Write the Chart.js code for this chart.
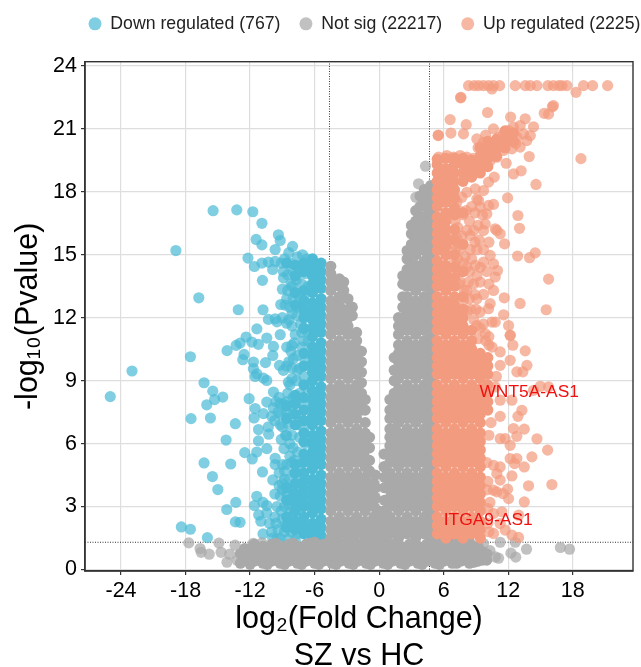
<!DOCTYPE html>
<html><head><meta charset="utf-8">
<style>html,body{margin:0;padding:0;background:#fff}#w{width:641px;height:667px;position:relative}</style>
<script src="https://cdn.jsdelivr.net/npm/chart.js@4/dist/chart.umd.min.js"></script>
</head><body><div id="w"><canvas id="c" width="641" height="667"></canvas></div>
<script>
const seriesNames=['Down regulated (767)','Not sig (22217)','Up regulated (2225)'];
const xTicks=[-24,-18,-12,-6,0,6,12,18];
const yTicks=[0,3,6,9,12,15,18,21,24];
const thresholdX=[-4.62,4.68];
const thresholdY=1.3;
const geneLabels=[['WNT5A-AS1',13.95,8.44],['ITGA9-AS1',10.14,2.35]];

const downScatter=[[-15.44,17.1],[-13.24,17.14],[-11.75,17.05],[-10.9,16.5],[-9.37,15.95],[-9.2,15.68],[-11.44,15.73],[-10.9,15.47],[-9.67,15.25],[-18.9,15.2],[-12.2,14.84],[-11.6,14.44],[-10.9,14.6],[-10.3,14.65],[-9.67,14.68],[-10.85,13.78],[-9,13.36],[-8.1,13.5],[-16.77,12.95],[-13.1,12.38],[-10.8,12.38],[-8.6,12.9],[-9.15,12.63],[-8.75,12.6],[-8.3,12.5],[-10.3,11.92],[-9.67,11.95],[-9.5,11.8],[-9,12],[-8.6,11.74],[-7.65,12.1],[-11.37,11.47],[-9.2,11.19],[-10.45,11.03],[-12.37,11.08],[-7.2,11.3],[-7,10.9],
[-17.55,10.14],[-22.98,9.46],[-25,8.24],[-16.28,8.9],[-15.47,8.5],[-15.3,8.1],[-14.54,8.22],[-16.03,7.85],[-17.49,7.19],[-15.69,7.22],[-13.37,6.95],[-14.23,6.17],[-16.28,5.08],[-13.8,5.03],[-15.5,4.43],[-15,3.81],[-13.33,3.2],[-14.17,2.86],[-13.37,2.27],[-12.93,2.25],[-18.39,2.03],[-17.55,1.92],[-15.97,1.52],[-14.14,10.43],[-13.3,10.68],[-12.93,10.79],[-11.84,10.84],[-11.23,10.73],[-12.56,10.25],[-12.68,10],[-11.69,9.89],[-11.69,9.57],[-11.38,9.33],[-11.53,9.2],[-10.76,9.12],[-10.45,9.01],[-10.57,9.86],[-9.83,10.63],[-9.89,10.2],[-8.6,10.6],[-8.12,10.68],[-7.97,10.05],[-9.27,9.73],[-8.9,9.49],[-8.44,8.93],[-8.3,8.8],[-9.83,8.46],[-12.09,8.14],[-10.45,7.98],[-11.53,7.67],[-11.63,7.22],[-10.76,7.43],[-9.83,7.7],[-8.9,7.9],[-11.22,6.67],[-10.3,6.8],[-10.27,6.45],[-11.22,6.13],[-9,6.8],[-8.6,6.4],[-10.45,5.76],[-11.38,5.6],[-12.5,5.57],[-11.8,5.27],[-8.85,5.76],[-9.67,5.3],[-9.67,5],[-10.85,4.65],[-9.89,4.27],[-8.12,5.1],[-11.38,3.49],[-10.8,3.2],[-11.6,3.05],[-10.45,3.05],[-11.2,2.6],[-10.45,2.7],[-11,2.3],[-10.2,2.2],[-10.8,1.7],[-10,1.8],[-9.3,4],
[-8.05,15.4],[-8.4,15.1],[-8.8,14.8],[-9.1,14.6],[-8.3,14.6],[-7.6,14.9],[-7.13,15],[-6.7,14.8],[-7.4,14.4],[-8,14.2],[-8.5,14.05],[-7.7,13.8],[-8.2,13.6],[-6.9,14.1],[-7.2,13.6],[-6.6,13.5],[-7.6,13.1],[-7,12.9],[-7.5,12.5],[-6.9,12.2],[-7.3,11.7],[-6.8,11.4],[-7.8,11.2],[-6.6,10.9],
[-8.2,10.4],[-7.6,10.2],[-7.2,10.6],[-6.9,10],[-7.4,9.6],[-7,9.2],[-7.7,9],[-6.8,8.7],[-9.3,8.2],[-8.5,8.4],[-8,8.2],[-7.4,8.4],[-7,8],[-9.4,7.5],[-8.6,7.5],[-8,7.4],[-7.3,7.3],[-9.2,6.9],[-8.4,6.9],[-7.7,6.9],[-7,6.7],[-8.1,6.4],[-7.4,6.3],[-6.9,6],
[-7.6,5.6],[-7,5.3],[-7.5,5],[-8.8,4.7],[-8.4,4.3],[-9,4.1],[-7.9,4.6],[-8.1,3.9],[-7.5,4.2],[-9.2,3.5],[-8.6,3.6],[-8,3.3],[-7.5,3.5],[-9.5,3],[-8.8,3],[-8.2,2.8],[-7.6,2.9],[-9.7,2.5],[-9,2.4],[-8.4,2.3],[-7.8,2.3],[-9.4,1.9],[-8.8,1.8],[-8.2,1.8],[-7.6,1.7],[-9.2,1.5],[-8.5,1.45],[-7.8,1.4],
[-9.9,14.3],[-8.9,14.2],[-8.9,13.9],[-8.5,13.3],[-8,12.9],[-8.1,12.2],[-8.4,11.9],[-8.1,11.6],[-7.9,10.8],[-8.4,9.9],[-8.6,9.7],[-8.1,9.6],[-7.6,9.5],[-8.1,9.1],[-9.6,8],[-9.2,7.9],[-8.6,8],[-8.2,7.8],[-9.7,7.1],[-10,7.3],[-9.1,7.4],[-8.7,6.4],[-8.3,6],[-8,5.8],[-9.1,6.2],[-7.9,5.2],[-8.3,5.4],[-8.6,5],[-9,5],[-9.3,4.6],[-9,3.8],[-9.7,3.6],[-8.4,3.1],[-9.1,2.8],[-9.6,2.2],[-8.7,2.1],[-8,2.1],[-9.9,1.5],[-9.5,1.45],[-8.2,3.4],[-8.8,4.3],[-7.9,3.6],[-7.8,4],[-7.9,2.7]];
const downDense=[
[-5.4,[1.6,2,2.4,2.9,3.3,3.7,4.1,4.5,5,5.4,5.8,6.2,6.6,7.1,7.5,7.9,8.3,8.7,9.2,9.6,10,10.4,10.8,11.3,11.7,12.1,12.5,12.9,13.4,13.8,14.2,14.6]],
[-6.2,[1.5,1.8,2.2,2.7,3.1,3.5,3.9,4.3,4.8,5.2,5.6,6,6.4,6.9,7.3,7.7,8.1,8.5,9,9.4,9.8,10.2,10.6,11.1,11.5,11.9,12.3,12.7,13.2,13.6,14,14.4,14.8]],
[-7,[1.7,2.1,2.5,3,3.4,3.8,4.2,4.6,5.1,5.5,6.1,6.5,7.1,7.6,8.2,8.8,9.7,10.3,11.5,12,12.4,12.8,13.3,14.2,14.6]],
[-7.8,[1.9,2.3,2.8,3.2,3.6,4.1,4.6,5,6.9,7.4,7.9,8.3,12.6,13.2,14,14.5]],
[-8.6,[2,2.5,3.3,3.9,7.2,7.8,14.6]]];

const notSigScatter=[[-17.7,1.27],[-16.65,1],[-16.55,.82],[-15.8,.73],[-14.9,1.26],[-14.7,.82],[-14.15,.35],[-13.9,.73],[-13.4,1.16],[-13.2,.44],[-12.6,.82],[-12.2,.5],[-11.7,1.25],[-10.9,1.27],[11.25,1.3],[12.65,1.3],[13.7,.97],[16.85,1.05],[17.7,.97],[12.25,.78],[12.7,.59],[11.1,.54],[10.8,.6],[9.7,1.24],[10.3,.9],[3.66,18.38],[4.31,19.22],[3.41,17.74]];
const notSigLeft=[
[-4.5,[1.5,1.9,2.3,2.8,3.2,3.6,4,4.4,4.9,5.3,5.7,6.1,6.5,7,7.4,7.8,8.2,8.6,9.1,9.5,9.9,10.3,10.7,11.2,11.6,12,12.4,12.8,13.3,13.7,14.1,14.45]],
[-3.7,[1.7,2.1,2.5,3,3.4,3.8,4.2,4.6,5.1,5.5,5.9,6.3,6.7,7.2,7.6,8,8.4,8.8,9.3,9.7,10.1,10.5,10.9,11.4,11.8,12.2,12.6,13,13.5,13.85]],
[-3.3,[13.7,13.3]],
[-2.9,[1.5,1.9,2.3,2.8,3.2,3.6,4,4.4,4.9,5.3,5.7,6.1,6.5,7,7.4,7.8,8.2,8.6,9.1,9.5,9.9,10.3,10.7,11.2,11.6,12,12.4,12.9]],
[-2.5,[12.5,12.1]],
[-2.1,[1.7,2.1,2.5,3,3.4,3.8,4.2,4.6,5.1,5.5,5.9,6.3,6.7,7.2,7.6,8,8.4,8.8,9.3,9.7,10.1,10.5,10.9,11.3]],
[-1.65,[7.6,8,8.4,8.9,9.4,9.9,10.4]],
[-1.3,[1.5,1.9,2.3,2.8,3.2,3.6,4,4.4,4.9,5.3,5.7,6.1,6.5,7,7.6,8.1]],
[-.9,[3.1,3.6,4.1,4.7,5.2,5.8,6.3]],
[-.5,[1.7,2.1,2.5,3,3.5,4.1]],
[-.35,[3.4,3.9,4.5]],
[-.1,[1.6,2,2.4,2.8]]];
const notSigRight=[
[.1,[2,2.4]],
[.45,[4.9,5.5]],
[.5,[1.5,1.9,2.3,2.8,3.3,3.9,4.4]],
[1,[1.7,2.1,2.5,3,3.4,3.8,4.2,4.6,5.1,5.5,5.9,6.3,6.7,7.2,7.6,8.1]],
[1.4,[6.2,6.7,7.3,7.9,8.4,9,9.5,10.1]],
[1.8,[1.5,1.9,2.3,2.8,3.2,3.6,4,4.4,4.9,5.3,5.7,6.1,6.5,7,7.4,7.8,8.2,8.6,9.1,9.5,9.9,10.3,10.7,11.2,11.6,12]],
[2.2,[11.5,12,12.5,13,13.6,14]],
[2.6,[1.7,2.1,2.5,3,3.4,3.8,4.2,4.6,5.1,5.5,5.9,6.3,6.7,7.2,7.6,8,8.4,8.8,9.3,9.7,10.1,10.5,10.9,11.4,11.8,12.2,12.6,13,13.5,13.9,14.3,14.8,15.2]],
[3,[14.5,15,15.5,16,16.4]],
[3.4,[1.5,1.9,2.3,2.8,3.2,3.6,4,4.4,4.9,5.3,5.7,6.1,6.5,7,7.4,7.8,8.2,8.6,9.1,9.5,9.9,10.3,10.7,11.2,11.6,12,12.4,12.8,13.3,13.7,14.1,14.5,15,15.4,15.8,16.2,16.6,17.1]],
[3.8,[16.3,16.8,17.3,17.8]],
[4.2,[1.7,2.1,2.5,3,3.4,3.8,4.2,4.6,5.1,5.5,5.9,6.3,6.7,7.2,7.6,8,8.4,8.8,9.3,9.7,10.1,10.5,10.9,11.4,11.8,12.2,12.6,13,13.5,13.9,14.3,14.7,15.2,15.6,16,16.4,16.8,17.3,17.7,18.1]],
[4.8,[1.5,1.9,2.3,2.8,3.2,3.6,4,4.4,4.9,5.3,5.7,6.1,6.5,7,7.4,7.8,8.2,8.6,9.1,9.5,9.9,10.3,10.7,11.2,11.6,12,12.4,12.8,13.3,13.7,14.1,14.5,15,15.4,15.8,16.2,16.6,17.1,17.5,17.9,18.3]]];
const notSigFloor=[
[-12.9,[.3,.75]],[-12,[.25,.65,1]],[-11.2,[.45,.85]],[-10.4,[.25,.65,1.05]],[-9.6,[.45,.85,1.25]],[-8.8,[.25,.65,1.05]],[-8,[.45,.85,1.25]],[-7.2,[.25,.65,1.05]],[-6.4,[.45,.85,1.25]],[-5.6,[.25,.65,1.05]],[-4.8,[.45,.85,1.25]],[-4,[.25,.65,1.05,1.4]],[-3.2,[.45,.85,1.25]],[-2.4,[.25,.65,1.05,1.4]],[-1.6,[.45,.85,1.25]],[-.8,[.25,.65,1.05,1.4]],[0,[.45,.85,1.25]],[.8,[.25,.65,1.05]],[1.6,[.45,.85,1.25]],[2.4,[.25,.65,1.05]],[3.2,[.45,.85,1.25]],[4,[.25,.65,1.05]],[4.8,[.45,.85,1.25]],[5.6,[.25,.65,1.05,1.3]],[6.4,[.45,.85,1.3]],[7.2,[.3,.65,1.05,1.3]],[8,[.45,.85,1.25]],[8.8,[.35,.65,1.05]],[9.6,[.45,.85]]];
const notSigFloorFill=[
[-12.5,[.5,1]],[-11.6,[.4,.8,1.2]],[-10.8,[.3,.7,1.1]],[-10,[.4,.8,1.2]],[-9.2,[.3,.7,1.1]],[-8.4,[.4,.8,1.2]],[-7.6,[.3,.7,1.1]],[-6.8,[.4,.8,1.2]],[-6,[.3,.7,1.1,1.3]],[-5.2,[.4,.8,1.2]],[-4.4,[.3,.7,1.1]],[-3.6,[.4,.8,1.2]],[-2.8,[.3,.7,1.1]],[-2,[.4,.8,1.2]],[-1.2,[.3,.7,1.1]],[-.4,[.4,.8,1.2]],[.4,[.3,.7,1.1]],[1.2,[.4,.8,1.2]],[2,[.3,.7,1.1]],[2.8,[.4,.8,1.2]],[3.6,[.3,.7,1.1]],[4.4,[.4,.8,1.2]],[5.2,[.3,.7,1.1,1.35]],[6,[.4,.8,1.3]],[6.8,[.3,.7,1.1,1.35]],[7.6,[.4,.8,1.3]],[8.4,[.3,.7,1.1,1.3]],[9.2,[.4,.8,1.1]],[10,[.45,.75]]];

const upScatter=[[8.31,23.06],[8.84,23.06],[9.24,23.06],[9.7,23.06],[10.17,23.06],[10.63,23.06],[11.2,23.06],[12.65,23.06],[13.58,23.06],[14.05,23.06],[14.67,23.06],[15.69,23.06],[16.2,23.06],[16.7,23.06],[17,23.06],[17.46,23.06],[19,23.06],[19.84,23.06],[21.24,23.06],[10.48,22.9],[18.3,22.74],[7.57,22.48],[7.6,22.5],[16.2,22.11],[16.1,22.05],[15.35,21.74],[15.75,21.7],[10.08,21.78],[12.22,21.56],[6.6,21.44],[13.58,21.48],[8.09,21.2],[5.49,20.68],[5.5,20.7],[6.67,20.8],[7.84,20.76],[10.63,21],[14.35,21.1],[18.76,19.58],[13.95,19.68],[11.81,19.36],[12.49,18.85],[13.2,19],[14.58,18.35],[10.7,18.7],[10.17,18.46],[11.94,17.71],[9.08,17.66],[12.9,16.87],[13.05,16.26],[11.66,15.52],[12.87,14.94],[13.98,14.86],[14.51,15.09],[15.75,13.84],[11.63,12.95],[13.1,12.68],[15.53,12.38],[11.57,12.14],[12.03,11.63],[12.19,11.16],
[9.08,20.52],[9.7,20.36],[9.39,20.13],[10.01,19.97],[10.63,20.28],[11.1,20.6],[11.56,20.76],[12.03,20.92],[12.49,21.08],[13.11,21.16],[12.8,20.6],[13.42,20.76],[14.05,20.68],[13.73,20.44],[13.11,20.13],[12.34,20.05],[11.56,19.97],[10.94,19.65],[10.32,19.49],[9.7,19.33],[9.08,19],[8.46,19.17],[8.15,19.65],[7.53,19.73],[6.91,19.65],[6.29,19.73],[5.52,19.65],[9.2,20.1],[9.9,20.7],[10.4,20.1],[10.9,20.3],[11.3,20.2],[11.8,20.4],[12.3,20.5],[12.7,20.3],[9.5,19.7],[10.2,19.9],[10.8,19.9],[8.8,19.6],[8.5,19.5],[9.1,19.5],
[8.15,17.98],[7.69,17.74],[7.22,17.51],[8.93,18.14],[9.7,18.06],[9.24,17.59],[10.17,17.35],[9.39,17.27],[10.63,17.4],[10.01,16.95],[6.91,16.95],[7.07,16.63],[8.15,16.16],[8.77,16.16],[8.46,15.92],[9.86,16.47],[9.7,16.16],[10.79,16.24],[11.25,16],[10.94,16.16],[6.76,16],[7.22,15.84],[7.53,15.28],[7.07,15.2],[8.46,15.24],[9.08,15.24],[9.7,15.25],[10.32,14.97],[6.91,14.89],[8.15,14.41],[8.93,14.49],[9.7,14.65],[10.63,14.57],[11,14.25],[10.79,13.94],[9.08,14],[8.77,13.6],[9.39,13.7],[7.07,14.09],[7.53,13.7],[8.15,13.3],[10.63,13.3],[9.7,13.11],[9.08,12.9],[10.32,12.67],[10.17,12.43],[7.84,12.82],[9.39,12.27],[10.48,11.79],[10.79,11.79],[9.08,11.63],[9.86,11.24],
[6.9,17.4],[7.4,17.1],[7.8,16.9],[7.3,16.3],[7.7,15.9],[6.9,15.5],[7.3,14.8],[7.8,14.6],[7.1,14.5],[7.5,14.2],[8,14.9],[8.4,14.2],[8.3,13.7],[7.9,13.3],[8.9,13.1],[8.4,12.9],[8.5,12.4],[9,12.4],[7.4,13.6],[8.2,12.3],[8.8,11.9],[9.4,11.5],[9.7,11.7],[9.2,11],[10.2,10.7],[9.9,10.9],[8.1,17.1],[8.6,17.3],[8.9,17],[9.6,16.9],[8.4,16.6],[9.2,16.4],[8.9,15.6],[9.3,15.7],[10.2,15.6],[10,14.2],[9.4,14.4],[10.2,13.6],[8.6,14.8],
[13.58,10.42],[13.74,9.73],[12.8,9.42],[13.36,9.42],[12.43,10.69],[12.18,11.16],[11.25,10.37],[11.25,9.73],[12.18,9.97],[14.98,8.73],[15.75,8.7],[14.35,8.54],[12.34,8.07],[11.25,8.07],[13.27,7.59],[12.9,7.3],[11.25,7.3],[12.49,6.72],[13.49,6.69],[12.8,6.35],[14.67,6.23],[15.66,5.69],[14.2,5.37],[12.8,5.29],[12.18,5.29],[12.59,5.05],[13.49,4.89],[11.25,6.24],[12.18,5.92],[11.72,6.24],[12.34,4.46],[11.25,4.89],[10.63,4.97],[10.94,4.57],[13.89,3.99],[16.06,4.05],[11.94,3.83],[11.25,4.26],[10.94,3.7],[12.03,3.38],[13.49,3.22],[10.63,3.78],[11.5,3.62],[12.96,2.59],[11.41,2.75],[10.63,2.67],[11.25,2.19],[11.72,1.88],[12.34,1.64],[12.96,1.53],[10.63,1.72],[10.1,2.2],[10.3,3.2],[10.2,6.4],[10.4,7],[10.8,8.7],[10.9,9.2],[10.5,10.6],[10.2,11.1],[10.1,4.2],[10,5.1],[10.1,2.9],[10,3.8],[10.2,1.8]];
const upDense=[
[5.4,[1.7,2.1,2.5,3,3.4,3.8,4.2,4.6,5.1,5.5,5.9,6.3,6.7,7.2,7.6,8,8.4,8.8,9.3,9.7,10.1,10.5,10.9,11.4,11.8,12.2,12.6,13,13.5,13.9,14.3,14.7,15.2,15.6,16,16.4,16.8,17.3,17.7,18.1,18.5,18.9,19.3,19.55]],
[6.2,[1.5,1.9,2.3,2.8,3.2,3.6,4,4.4,4.9,5.3,5.7,6.1,6.5,7,7.4,7.8,8.2,8.6,9.1,9.5,9.9,10.3,10.7,11.2,11.6,12,12.4,12.8,13.3,13.7,14.1,14.5,15,15.4,15.8,16.2,16.6,17,17.5,17.9,18.3,18.7,19.1,19.6]],
[7,[1.7,2.1,2.5,3,3.4,3.8,4.2,4.6,5.1,5.5,5.9,6.3,6.7,7.2,7.6,8,8.4,8.8,9.3,9.7,10.1,10.5,10.9,11.4,11.8,12.2,12.6,13,13.5,13.9,14.4,15,15.7,16.2,16.9,17.2,17.7,18.1,18.5,18.9,19.3,19.6]],
[7.8,[1.5,1.9,2.3,2.8,3.2,3.6,4,4.4,4.9,5.3,5.7,6.1,6.5,7,7.4,7.8,8.2,8.6,9.1,9.5,9.9,10.3,10.7,11.2,11.6,12,12.4,13,14.2,15.5,17,18.5,18.9,19.3,19.6]],
[8.6,[1.7,2.1,2.5,3,3.4,3.8,4.2,4.6,5.1,5.5,5.9,6.3,6.7,7.2,7.6,8,8.4,8.8,9.3,9.7,10.1,10.5,10.9,11.4,18.7,19.1,19.5]],
[9.4,[1.5,1.9,2.3,2.8,3.2,3.6,4,4.4,4.9,5.3,5.7,6.1,6.5,7,7.4,7.8,8.2,8.6,9.1,9.5,9.9,10.3,18.9,19.3,19.7,20.1]],
[10.1,[7.6,8,8.4,8.8,9.3,9.7,10.1,19.2,19.6,20,20.4]],
[10.9,[19.7,20.1,20.5]],[11.7,[20.1,20.5,20.9]],[12.5,[20.4,20.8]]];

const pairs=cols=>cols.flatMap(([x,ys])=>ys.map(y=>({x,y})));
const pts=list=>list.map(([x,y])=>({x,y}));
const R=5.6;
const mark=(label,data,color,order)=>({label,data,order,backgroundColor:color,borderColor:color,pointBackgroundColor:color,pointBorderColor:color,pointBorderWidth:0,pointRadius:R,pointHoverRadius:R,showLine:false});
const rule=(data)=>({label:'',data,order:20,showLine:true,pointRadius:0,borderColor:'#333',borderWidth:1,borderDash:[1,1.5],fill:false});
const BLUE='rgba(77,187,213,.72)',GREY='rgba(169,169,169,.72)',ORANGE='rgba(243,155,127,.72)';
const annot={id:'annot',
 afterLayout(ch){ch.legend.left=69.5;ch.legend.right=760;ch.legend.top=-4;},
 afterDatasetsDraw(ch){const{ctx,scales:{x,y},chartArea:a}=ch;ctx.save();ctx.fillStyle='#f01010';ctx.font='17.4px "Liberation Sans"';ctx.textAlign='center';ctx.textBaseline='middle';geneLabels.forEach(([t,p,q])=>ctx.fillText(t,x.getPixelForValue(p),y.getPixelForValue(q)));ctx.strokeStyle='#333';ctx.lineWidth=1.4;ctx.strokeRect(a.left,a.top,a.right-a.left,a.bottom-a.top);ctx.restore();}};
new Chart(document.getElementById('c'),{type:'scatter',plugins:[annot],data:{datasets:[
 mark(seriesNames[0],pts(downScatter),BLUE,10),
 mark(seriesNames[1],pts(notSigScatter),GREY,8),
 mark(seriesNames[2],pts(upScatter),ORANGE,6),
 mark('downDense',pairs(downDense),'#4DBBD5',9),
 mark('notSigDense',[...pairs(notSigLeft),...pairs(notSigRight),...pairs(notSigFloor),...pairs(notSigFloorFill)],'#A9A9A9',7),
 mark('upDense',pairs(upDense),'#F39B7F',5),
 rule([{x:thresholdX[0],y:0},{x:thresholdX[0],y:24.2}]),
 rule([{x:thresholdX[1],y:0},{x:thresholdX[1],y:24.2}]),
 rule([{x:-27.35,y:thresholdY},{x:23.6,y:thresholdY}])
]},options:{responsive:false,animation:false,events:[],
 layout:{padding:{left:0,right:8,top:15,bottom:0}},
 plugins:{tooltip:{enabled:false},title:{display:false},
  legend:{position:'top',align:'start',labels:{filter:i=>seriesNames.includes(i.text),sort:(a,b)=>a.datasetIndex-b.datasetIndex,usePointStyle:true,pointStyle:'circle',pointStyleWidth:13,boxHeight:9.2,padding:19,color:'#222',font:{family:'"Liberation Sans"',size:17.7}}}},
 scales:{
  x:{type:'linear',min:-27.35,max:23.6,afterBuildTicks:s=>{s.ticks=xTicks.map(value=>({value}))},
   afterFit:s=>{s.height=96},
   grid:{color:'#dedede',lineWidth:1.2,tickColor:'#333',tickLength:4,drawTicks:true},border:{color:'#333',width:1.5},
   ticks:{color:'#000',font:{family:'"Liberation Sans"',size:21.5},padding:3,maxRotation:0,autoSkip:false},
   title:{display:true,text:['log₂(Fold Change)','SZ vs HC'],color:'#000',font:{family:'"Liberation Sans"',size:30.5,lineHeight:1.22},padding:{top:0,bottom:-8}}},
  y:{type:'linear',min:-.07,max:24.2,afterBuildTicks:s=>{s.ticks=yTicks.map(value=>({value}))},
   afterFit:s=>{s.width=85},
   grid:{color:'#dedede',lineWidth:1.2,tickColor:'#333',tickLength:4},border:{color:'#333',width:1.5},
   ticks:{color:'#000',font:{family:'"Liberation Sans"',size:21.5},padding:4,autoSkip:false},
   title:{display:true,text:'-log₁₀(Pvalue)',color:'#000',font:{family:'"Liberation Sans"',size:30.5},padding:{top:10,bottom:0}}}
 }}});
</script></body></html>
